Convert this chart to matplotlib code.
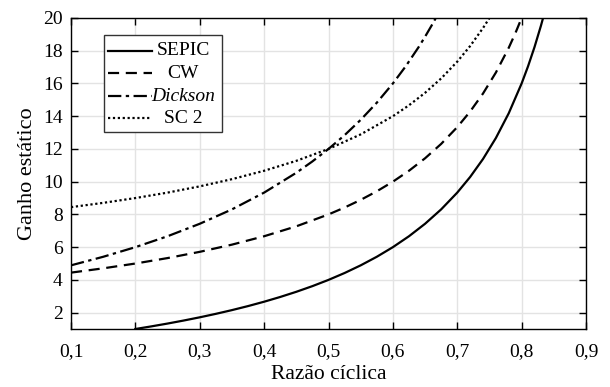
import matplotlib.pyplot as plt
from matplotlib.patches import Rectangle

plt.rcParams['font.family'] = ['Liberation Serif', 'DejaVu Serif']

# valores
d_sepic = [0.200, 0.225, 0.250, 0.275, 0.300, 0.325, 0.350, 0.375, 0.400, 0.425,
           0.450, 0.475, 0.500, 0.525, 0.550, 0.575, 0.600, 0.625, 0.650, 0.675,
           0.700, 0.720, 0.740, 0.760, 0.780, 0.800, 0.810, 0.820, 0.830, 0.8333]
g_sepic = [1.000, 1.161, 1.333, 1.517, 1.714, 1.926, 2.154, 2.400, 2.667, 2.957,
           3.273, 3.619, 4.000, 4.421, 4.889, 5.412, 6.000, 6.667, 7.429, 8.308,
           9.333, 10.286, 11.385, 12.667, 14.182, 16.000, 17.053, 18.222, 19.529, 20.0]

d_cw = [0.100, 0.150, 0.200, 0.250, 0.300, 0.350, 0.400, 0.450, 0.500, 0.525,
        0.550, 0.575, 0.600, 0.625, 0.650, 0.675, 0.700, 0.720, 0.740, 0.760,
        0.780, 0.790, 0.800]
g_cw = [4.444, 4.706, 5.000, 5.333, 5.714, 6.154, 6.667, 7.273, 8.000, 8.421,
        8.889, 9.412, 10.000, 10.667, 11.429, 12.308, 13.333, 14.286, 15.385, 16.667,
        18.182, 19.048, 20.000]

d_dick = [0.100, 0.150, 0.200, 0.250, 0.300, 0.350, 0.400, 0.450, 0.475, 0.500,
          0.525, 0.550, 0.575, 0.600, 0.620, 0.640, 0.650, 0.660, 0.6667]
g_dick = [4.889, 5.412, 6.000, 6.667, 7.429, 8.308, 9.333, 10.545, 11.238, 12.000,
          12.842, 13.778, 14.824, 16.000, 17.053, 18.222, 18.857, 19.529, 20.000]

d_sc2 = [0.100, 0.150, 0.200, 0.250, 0.300, 0.350, 0.400, 0.450, 0.500, 0.550,
         0.600, 0.625, 0.650, 0.675, 0.700, 0.720, 0.740, 0.750]
g_sc2 = [8.444, 8.706, 9.000, 9.333, 9.714, 10.154, 10.667, 11.273, 12.000, 12.889,
         14.000, 14.667, 15.429, 16.308, 17.333, 18.286, 19.385, 20.000]

labels = ['SEPIC', 'CW', 'Dickson', 'SC 2']
xticks = [0.1, 0.2, 0.3, 0.4, 0.5, 0.6, 0.7, 0.8, 0.9]
yticks = [2, 4, 6, 8, 10, 12, 14, 16, 18, 20]

fig = plt.figure(figsize=(6.1, 3.87), dpi=100)
ax = fig.add_axes([71/610, 58/387, 515/610, 311/387])

lw = 1.6
styles = [dict(ls='-'), dict(ls=(0, (5, 3))), dict(ls=(0, (6, 2, 1.5, 2))),
          dict(ls=(0, (1, 1.2)))]
series = [(d_sepic, g_sepic), (d_cw, g_cw), (d_dick, g_dick), (d_sc2, g_sc2)]
for (x, y), st in zip(series, styles):
    ax.plot(x, y, color='black', lw=lw, **st)

ax.set_xlim(0.1, 0.9)
ax.set_ylim(1, 20)
ax.set_xticks(xticks)
ax.set_xticklabels([('%.1f' % v).replace('.', ',') for v in xticks])
ax.set_yticks(yticks)
ax.grid(True, color='#e3e3e3', lw=1)
ax.set_axisbelow(True)
ax.tick_params(direction='in', top=True, right=True, labelsize=14,
               length=5, width=1)
ax.tick_params(axis='x', pad=10)
ax.tick_params(axis='y', pad=6)
for s in ax.spines.values():
    s.set_linewidth(1)
ax.set_xlabel('Razão cíclica', fontsize=15.5, labelpad=4)
ax.set_ylabel('Ganho estático', fontsize=16, labelpad=4)

# legenda desenhada à mão (texto centrado, como no original)
ax.add_patch(Rectangle((0.064, 0.632), 0.229, 0.313, transform=ax.transAxes,
                       facecolor='white', edgecolor='#333333', lw=1, zorder=5))
rows = [0.894, 0.822, 0.749, 0.677]
for lab, st, yy in zip(labels, styles, rows):
    ax.plot([0.072, 0.157], [yy, yy], transform=ax.transAxes, color='black',
            lw=lw, zorder=6, **st)
    ax.text(0.218, yy, lab, transform=ax.transAxes, ha='center', va='center',
            fontsize=14, style='italic' if lab == 'Dickson' else 'normal',
            zorder=6)

fig.savefig('out.png', dpi=100)
